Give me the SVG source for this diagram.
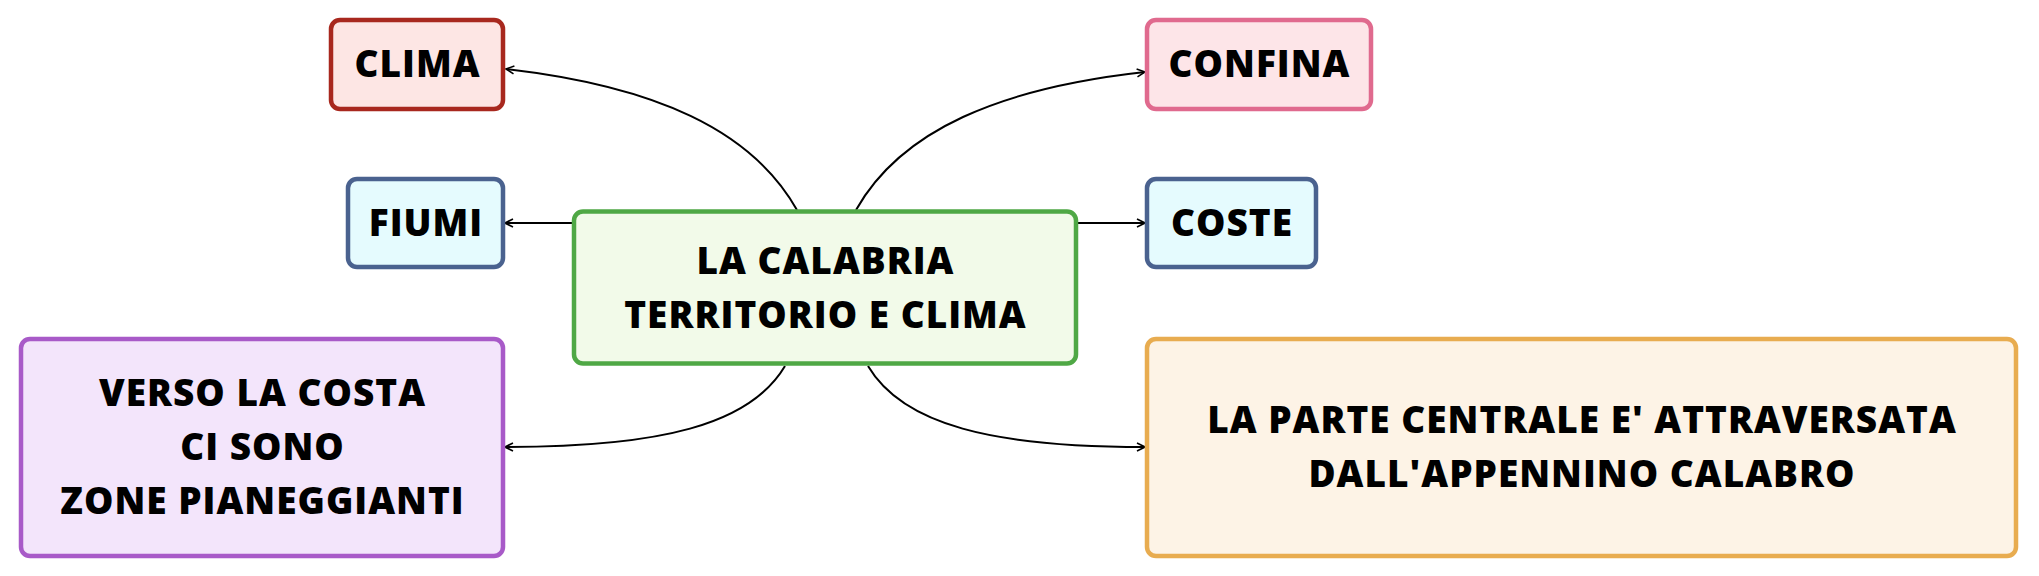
<svg xmlns="http://www.w3.org/2000/svg" width="2039" height="576" viewBox="0 0 2039 576">
<style>
.n rect{stroke-width:4.5}
.n text{font-family:"Open Sans","Liberation Sans",Arial,sans-serif;font-weight:800;font-size:37px;letter-spacing:1px;fill:#000;text-anchor:middle}
.c path{fill:none;stroke:#000;stroke-width:2}
</style>
<defs>
<marker id="ah" viewBox="0 0 10 10" refX="9" refY="5" markerWidth="10" markerHeight="10" markerUnits="userSpaceOnUse" orient="auto">
<path d="M1,1 L9,5 L1,9" fill="none" stroke="#000" stroke-width="1.6"/>
</marker>
</defs>
<rect width="2039" height="576" fill="#fff"/>
<g class="c" id="connectors">
<path d="M797,210 C752,130 655,86 506,69" marker-end="url(#ah)"/>
<path d="M856,210 C901,130 1000,88 1145,72" marker-end="url(#ah)"/>
<path d="M573,223 L505,223" marker-end="url(#ah)"/>
<path d="M1077,223 L1145,223" marker-end="url(#ah)"/>
<path d="M785,366 C750,425 660,447 505,447" marker-end="url(#ah)"/>
<path d="M868,366 C903,425 993,447 1145,447" marker-end="url(#ah)"/>
</g>
<g class="n" id="center">
<rect x="574" y="211.5" width="502" height="152" rx="9" fill="#f2fae9" stroke="#4fa845"/>
<text x="825.5" y="274">LA CALABRIA</text>
<text x="825.5" y="328">TERRITORIO E CLIMA</text>
</g>
<g class="n" id="clima">
<rect x="331" y="20" width="172" height="89" rx="9" fill="#fde6e4" stroke="#a8281e"/>
<text x="417.5" y="77">CLIMA</text>
</g>
<g class="n" id="confina">
<rect x="1147" y="20" width="224" height="89" rx="9" fill="#fde5e8" stroke="#e06a8e"/>
<text x="1259.5" y="77">CONFINA</text>
</g>
<g class="n" id="fiumi">
<rect x="348" y="179" width="155" height="88" rx="9" fill="#e5fbfe" stroke="#4a628f"/>
<text x="426" y="236">FIUMI</text>
</g>
<g class="n" id="coste">
<rect x="1147" y="179" width="169" height="88" rx="9" fill="#e5fbfe" stroke="#4a628f"/>
<text x="1232" y="236">COSTE</text>
</g>
<g class="n" id="verso">
<rect x="21" y="339" width="482" height="217" rx="9" fill="#f3e5fb" stroke="#a85ac8"/>
<text x="262.5" y="406">VERSO LA COSTA</text>
<text x="262.5" y="460">CI SONO</text>
<text x="262.5" y="514">ZONE PIANEGGIANTI</text>
</g>
<g class="n" id="parte">
<rect x="1147" y="339" width="869" height="217" rx="9" fill="#fdf3e6" stroke="#e8ac50"/>
<text x="1582" y="433">LA PARTE CENTRALE E' ATTRAVERSATA</text>
<text x="1582" y="487">DALL'APPENNINO CALABRO</text>
</g>
</svg>
